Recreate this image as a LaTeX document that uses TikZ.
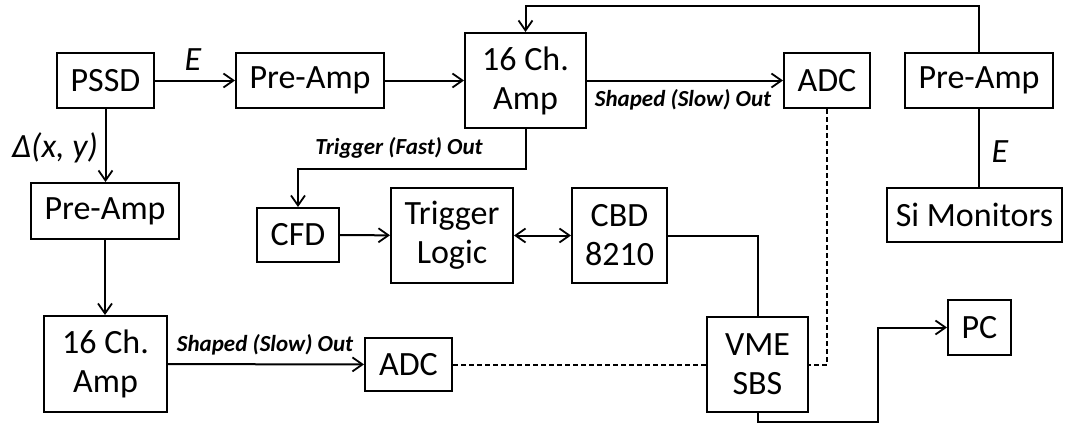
\documentclass[tikz,border=0pt]{standalone}
\usepackage{fontspec}
\setmainfont{Carlito}
\usetikzlibrary{arrows.meta, positioning, calc}

\begin{document}
\begin{tikzpicture}[x=0.5pt, y=-0.5pt,
  >={Straight Barb[length=5pt, width=7pt, line width=0.9pt]},
  blk/.style={draw, line width=1pt, inner sep=0pt, align=center,
    font=\fontsize{17}{19.5}\selectfont},
  sig/.style={line width=1pt, ->},
  bidir/.style={line width=1pt, <->},
  wire/.style={line width=1pt},
  bus/.style={line width=1pt, dash pattern=on 2.5pt off 1.5pt},
  lbl/.style={font=\fontsize{11.5}{13}\selectfont\bfseries\itshape},
  var/.style={font=\fontsize{17}{19}\selectfont\itshape}]
  \useasboundingbox (0,0) rectangle (1067,423);

  % Detector and energy branch
  \node[blk, minimum width=48.5pt, minimum height=27.5pt] (pssd) at (105.5,80.5) {PSSD};
  \node[blk, minimum width=74pt, minimum height=27.5pt] (preE) at (310,80.5) {Pre-Amp};
  \node[blk, minimum width=60.5pt, minimum height=47.5pt] (ampE) at (525.5,80.5) {16 Ch.\\Amp};
  \node[blk, minimum width=43pt, minimum height=27.5pt] (adcE) at (827,80.5) {ADC};

  % Si monitors
  \node[blk, minimum width=74pt, minimum height=27.5pt] (preSi) at (979,80.5) {Pre-Amp};
  \node[blk, minimum width=87.5pt, minimum height=27pt] (siMon) at (974.5,215) {Si Monitors};

  % Position branch
  \node[blk, minimum width=74pt, minimum height=28pt] (preXY) at (105,211) {Pre-Amp};
  \node[blk, minimum width=61.5pt, minimum height=48pt] (ampXY) at (105.5,364) {16 Ch.\\Amp};
  \node[blk, minimum width=43.5pt, minimum height=26.5pt] (adcXY) at (408.5,364.5) {ADC};

  % Trigger chain
  \node[blk, minimum width=41pt, minimum height=27pt] (cfd) at (298,235) {CFD};
  \node[blk, minimum width=61pt, minimum height=47.5pt] (trig) at (452,235.5) {Trigger\\Logic};
  \node[blk, minimum width=47.5pt, minimum height=47.5pt] (cbd) at (619.5,235.5) {CBD\\8210};

  % Readout
  \node[blk, minimum width=50.5pt, minimum height=47.5pt] (vme) at (757.5,364.5) {VME\\SBS};
  \node[blk, minimum width=31.5pt, minimum height=27.5pt] (pc) at (979.5,327.5) {PC};

  % Energy signal path
  \draw[sig] (pssd) -- (preE);
  \node[var] (lblE) at (193,60) {E};
  \draw[sig] (preE) -- (ampE);
  \draw[sig] (ampE) -- (adcE);
  \node[lbl] (lblSlowE) at (683,100) {Shaped (Slow) Out};

  % Monitor path into the amplifier
  \draw[sig] (preSi.north) -- ++(0,-46) -| (ampE.north);
  \draw[wire] (preSi.south) -- (preSi.south |- siMon.north);
  \node[var] (lblESi) at (1000,152) {E};

  % Position signal path
  \draw[sig] (pssd.south) -- (pssd.south |- preXY.north);
  \node[var] (lblXY) at (55,148) {Δ(x, y)};
  \draw[sig] (preXY.south) -- (preXY.south |- ampXY.north);
  \draw[sig] (ampXY) -- (adcXY);
  \node[lbl] (lblSlowXY) at (265,345) {Shaped (Slow) Out};

  % Trigger
  \draw[sig] (ampE.south) -- ++(0,40) -| (cfd.north);
  \node[lbl] (lblFast) at (399,148) {Trigger (Fast) Out};
  \draw[sig] (cfd) -- (trig);
  \draw[bidir] (trig) -- (cbd);
  \draw[wire] (cbd.east) -| (vme.north);

  % Data bus
  \draw[bus] (adcXY) -- (vme);
  \draw[bus] (adcE.south) |- (vme.east);
  \draw[sig] (vme.south) -- ++(0,9) -- ++(120,0) |- (pc.west);
\end{tikzpicture}
\end{document}
